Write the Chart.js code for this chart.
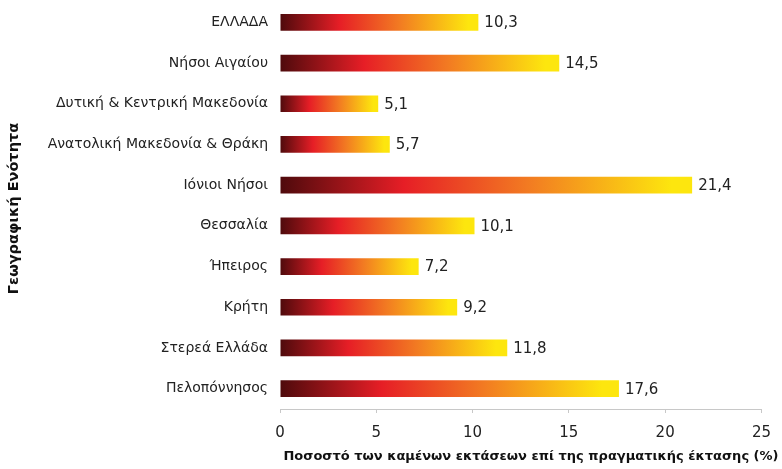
<!DOCTYPE html>
<html>
<head>
<meta charset="utf-8">
<script src="https://cdn.jsdelivr.net/npm/chart.js@4"></script>
<style>
  html, body { margin: 0; padding: 0; background: #fff; }
  #wrap { width: 782px; height: 469px; }
</style>
</head>
<body>
<div id="wrap"><canvas id="c" width="782" height="469"></canvas></div>
<script>
// Regions and share of burnt area over real area (%)
const regions = [
  'ΕΛΛΑΔΑ',
  'Νήσοι Αιγαίου',
  'Δυτική & Κεντρική Μακεδονία',
  'Ανατολική Μακεδονία & Θράκη',
  'Ιόνιοι Νήσοι',
  'Θεσσαλία',
  'Ήπειρος',
  'Κρήτη',
  'Στερεά Ελλάδα',
  'Πελοπόννησος'
];
const burntShare = [10.3, 14.5, 5.1, 5.7, 21.4, 10.1, 7.2, 9.2, 11.8, 17.6];
const xTicks = [0, 5, 10, 15, 20, 25];

const xTitle = 'Ποσοστό των καμένων εκτάσεων επί της πραγματικής έκτασης (%)';
const yTitle = 'Γεωγραφική Ενότητα';

const FONT = "'DejaVu Sans', sans-serif";

// Each bar runs dark red -> red -> orange -> yellow from its base to its tip
function barGradient(ctx) {
  const chart = ctx.chart;
  if (!chart.chartArea || ctx.dataIndex === undefined) return '#e8202a';
  const xs = chart.scales.x;
  const x0 = xs.getPixelForValue(0);
  const x1 = xs.getPixelForValue(burntShare[ctx.dataIndex]);
  const g = chart.ctx.createLinearGradient(x0, 0, x1, 0);
  g.addColorStop(0.0, '#4e0a0c');
  g.addColorStop(0.3, '#e61e26');
  g.addColorStop(0.6, '#f27a22');
  g.addColorStop(0.95, '#fde60e');
  g.addColorStop(1.0, '#fde60e');
  return g;
}

// Value labels written just past the end of each bar
const valueLabels = {
  id: 'valueLabels',
  afterDatasetsDraw(chart) {
    const { ctx } = chart;
    const meta = chart.getDatasetMeta(0);
    ctx.save();
    ctx.font = '15px ' + FONT;
    ctx.fillStyle = '#222';
    ctx.textBaseline = 'middle';
    ctx.textAlign = 'left';
    meta.data.forEach((bar, i) => {
      ctx.fillText(burntShare[i].toFixed(1).replace('.', ','), bar.x + 6, bar.y + 1);
    });
    ctx.restore();
  }
};

// Axis titles: x title under the tick labels, y title rotated at the far left
const axisTitles = {
  id: 'axisTitles',
  afterDraw(chart) {
    const { ctx, chartArea } = chart;
    ctx.save();
    ctx.fillStyle = '#111';
    ctx.textBaseline = 'middle';
    ctx.textAlign = 'center';
    ctx.font = 'bold 13px ' + FONT;
    ctx.fillText(xTitle, 531, 457);
    ctx.translate(14, (chartArea.top + chartArea.bottom) / 2 + 3);
    ctx.rotate(-Math.PI / 2);
    ctx.font = 'bold 14.5px ' + FONT;
    ctx.fillText(yTitle, 0, 0);
    ctx.restore();
  }
};

new Chart(document.getElementById('c'), {
  type: 'bar',
  data: {
    labels: regions,
    datasets: [{
      data: burntShare,
      backgroundColor: barGradient,
      borderWidth: 0,
      barPercentage: 0.41,
      categoryPercentage: 1.0
    }]
  },
  options: {
    indexAxis: 'y',
    responsive: false,
    animation: false,
    devicePixelRatio: 1,
    layout: { padding: { top: 2, right: 19, left: 0, bottom: 0 } },
    plugins: {
      legend: { display: false },
      tooltip: { enabled: false }
    },
    scales: {
      x: {
        min: 0,
        max: 25,
        afterBuildTicks(scale) { scale.ticks = xTicks.map(v => ({ value: v })); },
        afterFit(scale) { scale.height = 60; },
        grid: {
          drawOnChartArea: false,
          drawTicks: true,
          tickLength: 4,
          color: '#c8c8c8'
        },
        border: { display: true, color: '#c8c8c8', width: 1 },
        ticks: {
          color: '#222',
          font: { family: FONT, size: 15 },
          padding: 11,
          callback: v => String(v)
        },
        title: { display: false }
      },
      y: {
        afterFit(scale) {
          scale.width = 280;
          scale.paddingTop = 0;
          scale.paddingBottom = 0;
        },
        grid: { display: false, drawTicks: false },
        border: { display: false },
        ticks: {
          color: '#222',
          font: { family: FONT, size: 14 },
          padding: 12
        },
        title: { display: false }
      }
    }
  },
  plugins: [valueLabels, axisTitles]
});
</script>
</body>
</html>
